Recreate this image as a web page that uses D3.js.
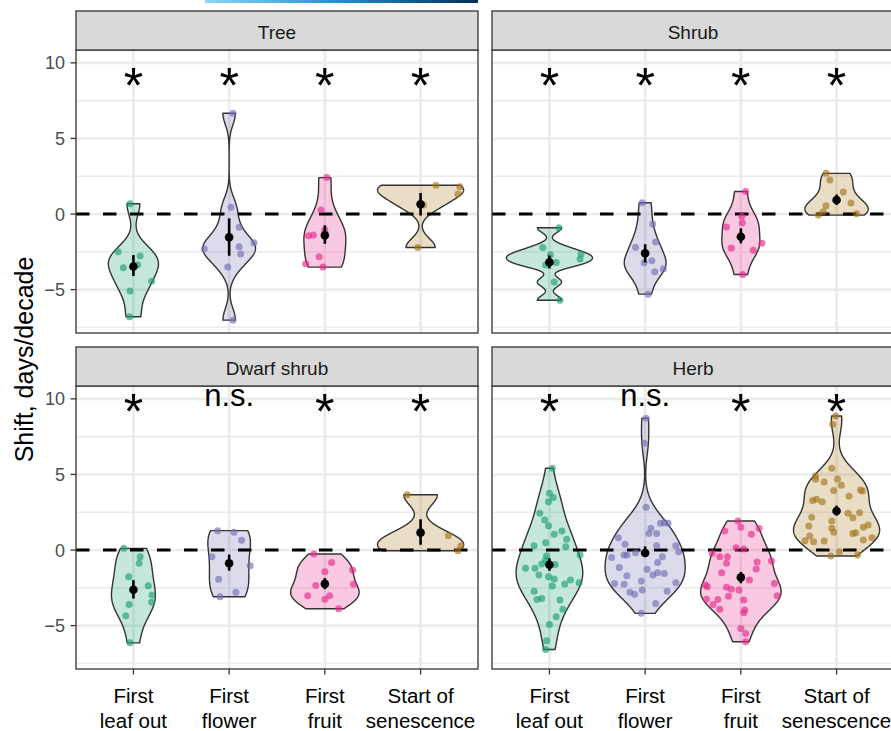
<!DOCTYPE html>
<html>
<head>
<meta charset="utf-8">
<script src="https://cdn.jsdelivr.net/npm/d3@7"></script>
<style>
  body { margin: 0; background: #fff; }
  svg { display: block; }
  text { font-family: "Liberation Sans", Arial, Helvetica, sans-serif; }
</style>
</head>
<body>
<svg id="chart" width="891" height="731"></svg>
<script>
// ---- data -------------------------------------------------------------
const facets = ["Tree", "Shrub", "Dwarf shrub", "Herb"];
const phases = ["First leaf out", "First flower", "First fruit", "Start of senescence"];
const phaseLines = [["First", "leaf out"], ["First", "flower"], ["First", "fruit"], ["Start of", "senescence"]];
const yTicks = [-5, 0, 5, 10];
const yMinorTicks = [-7.5, -2.5, 2.5, 7.5];
const phaseColors = ["#1B9E77", "#7570B3", "#E7298A", "#A6761D"];

// species-level shifts (days/decade) as [shift, horizontal jitter in category widths]
const treeLeafOut = [[0.68,-0.035],[-2.50,-0.16],[-2.78,0.07],[-3.36,0.045],[-3.56,-0.105],[-4.44,0.19],[-5.10,-0.035],[-6.80,-0.04]];
const treeFlower = [[6.67,0.04],[0.44,0.02],[-0.88,0.105],[-1.90,0.26],[-2.16,0.105],[-2.65,0.12],[-2.32,-0.26],[-3.51,-0.015],[-7.02,0.04]];
const treeFruit = [[2.41,0.02],[0.26,-0.04],[-1.06,0.0],[-1.39,-0.12],[-1.43,-0.17],[-2.83,-0.06],[-3.29,-0.2],[-3.51,-0.02]];
const treeSenescence = [[1.90,0.16],[1.81,0.41],[1.32,0.39],[0.60,0.03],[-2.21,-0.03]];

const shrubLeafOut = [[-0.91,0.10],[-2.21,-0.07],[-2.70,0.01],[-2.65,0.33],[-2.97,0.32],[-3.20,0.07],[-3.38,-0.04],[-4.50,0.05],[-5.70,0.11]];
const shrubFlower = [[0.75,-0.03],[-0.66,0.08],[-1.85,0.11],[-2.19,-0.10],[-3.09,0.07],[-3.22,-0.01],[-3.64,0.19],[-3.82,0.10],[-5.30,0.03]];
const shrubFruit = [[1.49,0.05],[-0.15,0.01],[-0.58,0.015],[-0.86,-0.15],[-1.94,0.22],[-2.25,-0.10],[-2.40,0.13],[-4.00,0.02]];
const shrubSenescence = [[2.69,-0.11],[2.25,-0.07],[1.46,0.07],[0.73,0.15],[0.55,-0.11],[0.15,-0.14],[-0.07,-0.19],[0.02,0.21]];

const dwarfLeafOut = [[0.11,-0.10],[-0.44,0.07],[-0.88,0.06],[-1.77,-0.05],[-2.36,0.155],[-2.98,0.195],[-3.46,0.19],[-3.60,-0.045],[-4.35,-0.08],[-6.14,-0.035]];
const dwarfFlower = [[1.28,-0.12],[1.17,0.05],[0.64,0.13],[-0.44,-0.18],[-1.04,0.22],[-1.94,-0.11],[-2.80,0.07],[-3.09,-0.095]];
const dwarfFruit = [[-0.26,-0.115],[-0.82,0.07],[-1.43,0.0],[-1.32,0.29],[-2.34,-0.095],[-2.27,0.30],[-3.02,-0.18],[-3.02,0.05],[-3.25,0.0],[-3.89,0.145]];
const dwarfSenescence = [[3.66,-0.14],[0.95,0.29],[0.29,0.42],[-0.05,0.39]];

const herbLeafOut = [[5.41,0.03],[3.75,0.0],[3.47,0.04],[3.20,-0.01],[2.43,-0.10],[1.99,-0.05],[1.61,-0.01],[1.04,0.05],[1.26,0.13],[0.71,0.18],[0.22,0.17],[0.48,-0.04],[0.28,-0.16],[-0.33,0.32],[-0.40,-0.03],[-0.66,-0.04],[-0.95,0.06],[-0.93,-0.08],[-1.21,-0.25],[-1.21,-0.15],[-1.66,-0.11],[-1.77,-0.01],[-1.92,0.05],[-2.25,0.16],[-1.99,0.22],[-2.16,0.31],[-2.38,0.03],[-2.72,-0.16],[-3.27,-0.13],[-3.20,-0.08],[-3.31,0.11],[-3.91,0.14],[-4.41,0.07],[-4.92,0.0],[-6.00,-0.03],[-6.58,-0.04]];
const herbFlower = [[8.72,0.01],[7.07,-0.01],[2.83,0.01],[1.81,0.20],[1.77,0.24],[1.77,0.16],[1.44,0.06],[1.10,0.04],[1.10,0.12],[0.82,-0.28],[0.38,-0.21],[0.29,0.12],[0.29,0.32],[-0.11,0.35],[-0.18,-0.10],[-0.33,-0.22],[-0.33,-0.19],[-0.49,-0.35],[-0.44,0.18],[-0.82,0.13],[-1.15,-0.27],[-1.28,0.02],[-1.66,0.08],[-1.50,0.13],[-1.55,0.20],[-1.70,-0.19],[-2.05,-0.04],[-2.21,-0.32],[-2.27,-0.22],[-2.16,0.32],[-2.65,-0.03],[-2.80,-0.16],[-2.93,-0.11],[-2.72,0.23],[-3.53,0.11],[-4.19,-0.04]];
const herbFruit = [[1.92,-0.03],[1.50,0.0],[1.44,0.19],[1.26,-0.17],[1.04,0.11],[0.15,-0.05],[0.07,0.03],[-0.22,-0.30],[-0.44,-0.22],[-0.44,-0.14],[-0.88,-0.15],[-0.73,0.32],[-0.79,0.17],[-1.26,0.16],[-1.50,-0.20],[-1.99,0.09],[-2.32,-0.37],[-2.43,-0.35],[-2.47,-0.15],[-2.60,-0.10],[-2.65,-0.02],[-2.21,0.35],[-3.02,0.38],[-3.05,-0.13],[-3.25,-0.36],[-3.27,-0.24],[-3.31,0.03],[-3.60,-0.29],[-3.91,-0.22],[-3.97,0.04],[-4.15,0.03],[-5.19,0.0],[-5.52,0.05],[-6.07,0.05]];
const herbSenescence = [[8.87,-0.01],[8.32,-0.04],[5.41,-0.05],[4.90,-0.22],[4.68,-0.22],[4.50,-0.13],[4.70,0.01],[4.28,0.05],[3.93,-0.03],[3.97,0.25],[3.91,0.27],[3.56,0.13],[3.27,-0.25],[3.36,-0.21],[3.20,-0.15],[2.43,0.12],[2.47,0.24],[2.14,0.17],[2.16,-0.26],[1.92,-0.05],[1.59,-0.29],[1.44,-0.05],[1.17,-0.03],[1.50,0.28],[1.66,0.33],[1.10,0.17],[1.15,0.20],[0.93,-0.28],[0.62,-0.33],[0.55,-0.24],[0.60,-0.13],[0.66,0.28],[0.82,0.37],[-0.11,0.03],[-0.40,-0.06],[-0.33,0.22]];

// mean shift with its interval, one row per growth form, [mean, low, high] per phase
const treeSummary = [[-3.47,-4.10,-2.72],[-1.54,-2.76,-0.29],[-1.41,-1.97,-0.75],[0.65,-0.10,1.39]];
const shrubSummary = [[-3.19,-3.60,-2.74],[-2.60,-3.21,-2.00],[-1.50,-1.94,-0.95],[0.93,0.60,1.29]];
const dwarfSummary = [[-2.63,-3.20,-1.99],[-0.88,-1.36,-0.30],[-2.24,-2.59,-1.86],[1.15,0.35,2.03]];
const herbSummary = [[-0.97,-1.37,-0.55],[-0.20,-0.44,0.24],[-1.81,-2.20,-1.45],[2.58,2.28,2.93]];

// significance labels and the height they are printed at
const treeSignif = ["*", "*", "*", "*"];
const shrubSignif = ["*", "*", "*", "*"];
const dwarfSignif = ["*", "n.s.", "*", "*"];
const herbSignif = ["*", "n.s.", "*", "*"];
const signifY = [9.25, 9.25, 9.95, 9.95];

const observations = [
  [treeLeafOut, treeFlower, treeFruit, treeSenescence],
  [shrubLeafOut, shrubFlower, shrubFruit, shrubSenescence],
  [dwarfLeafOut, dwarfFlower, dwarfFruit, dwarfSenescence],
  [herbLeafOut, herbFlower, herbFruit, herbSenescence]
];
const summaries = [treeSummary, shrubSummary, dwarfSummary, herbSummary];
const signifs = [treeSignif, shrubSignif, dwarfSignif, herbSignif];

// ---- layout -----------------------------------------------------------
const svg = d3.select("#chart");
const panelW = 402, panelH = 283, stripH = 39, gapX = 14;
const col0 = 76, row0 = 11, rowGap = 336;
const panels = facets.map((f, i) => {
  const c = i % 2, r = Math.floor(i / 2);
  const x0 = col0 + c * (panelW + gapX);
  const sy = row0 + r * rowGap;
  return { name: f, i, c, r, x0, x1: x0 + panelW, stripY: sy, y0: sy + stripH, y1: sy + stripH + panelH };
});

// shared y range: all shifts plus the label height, with a 5% margin on both sides
const allVals = observations.flat(2).map(d => d[0]);
const ext = d3.extent(allVals.concat([10]));
const pad = (ext[1] - ext[0]) * 0.05;
const yDomain = [ext[0] - pad, ext[1] + pad];

// thin banner at the top edge
const defs = svg.append("defs");
const grad = defs.append("linearGradient").attr("id", "banner").attr("x1", "0").attr("x2", "1");
grad.append("stop").attr("offset", "0").attr("stop-color", "#8fd5f6");
grad.append("stop").attr("offset", "0.5").attr("stop-color", "#1d8fcc");
grad.append("stop").attr("offset", "1").attr("stop-color", "#062f58");
svg.append("rect").attr("x", 205).attr("y", 0).attr("width", 273).attr("height", 3).attr("fill", "url(#banner)");

// Gaussian kernel density (bw.nrd0), evaluated on 512 points over the data range
function bwNrd0(v) {
  const n = v.length;
  const s = d3.deviation(v) || 0;
  const sorted = v.slice().sort(d3.ascending);
  const iqr = d3.quantileSorted(sorted, 0.75) - d3.quantileSorted(sorted, 0.25);
  let lo = Math.min(s, iqr / 1.34);
  if (!(lo > 0)) lo = s || Math.abs(sorted[0]) || 1;
  return 0.9 * lo * Math.pow(n, -0.2);
}
function density(v) {
  const h = bwNrd0(v);
  const [lo, hi] = d3.extent(v);
  const m = 512;
  const out = [];
  for (let k = 0; k < m; k++) {
    const y = lo + (hi - lo) * k / (m - 1);
    let s = 0;
    for (const xi of v) { const u = (y - xi) / h; s += Math.exp(-0.5 * u * u); }
    out.push({ y, d: s / (v.length * h * Math.sqrt(2 * Math.PI)) });
  }
  return out;
}

panels.forEach(p => {
  const g = svg.append("g");
  const x = d3.scalePoint().domain(phases).range([p.x0, p.x1]).padding(0.6);
  const y = d3.scaleLinear().domain(yDomain).range([p.y1, p.y0]);
  const step = x.step();

  const clipId = "clip" + p.i;
  defs.append("clipPath").attr("id", clipId).append("rect")
    .attr("x", p.x0).attr("y", p.y0).attr("width", panelW).attr("height", panelH);

  // background + grid
  g.append("rect").attr("x", p.x0).attr("y", p.y0).attr("width", panelW).attr("height", panelH).attr("fill", "#fff");
  const grid = g.append("g").attr("clip-path", `url(#${clipId})`);
  grid.selectAll(".minor").data(yMinorTicks).join("line")
    .attr("x1", p.x0).attr("x2", p.x1).attr("y1", d => y(d)).attr("y2", d => y(d))
    .attr("stroke", "#EBEBEB").attr("stroke-width", 1.6);
  grid.selectAll(".major").data(yTicks).join("line")
    .attr("x1", p.x0).attr("x2", p.x1).attr("y1", d => y(d)).attr("y2", d => y(d))
    .attr("stroke", "#EBEBEB").attr("stroke-width", 2.6);
  grid.selectAll(".vmajor").data(phases).join("line")
    .attr("x1", d => x(d)).attr("x2", d => x(d)).attr("y1", p.y0).attr("y2", p.y1)
    .attr("stroke", "#EBEBEB").attr("stroke-width", 2.6);

  const plot = g.append("g").attr("clip-path", `url(#${clipId})`);

  // violins, widths scaled to the largest density in the panel
  const groups = observations[p.i].map(arr => arr.map(d => d[0]));
  const dens = groups.map(density);
  const maxD = d3.max(dens, ds => d3.max(ds, e => e.d));
  dens.forEach((ds, j) => {
    const cx = x(phases[j]);
    const half = e => e.d / maxD * 0.45 * step;
    const area = d3.area().y(e => y(e.y)).x0(e => cx - half(e)).x1(e => cx + half(e));
    plot.append("path").attr("d", area(ds))
      .attr("fill", phaseColors[j]).attr("fill-opacity", 0.25)
      .attr("stroke", "#333333").attr("stroke-width", 1.4).attr("stroke-linejoin", "round");
  });

  // zero reference
  plot.append("line").attr("x1", p.x0).attr("x2", p.x1).attr("y1", y(0)).attr("y2", y(0))
    .attr("stroke", "#000").attr("stroke-width", 3.2).attr("stroke-dasharray", "13.5 13.5");

  // species points
  observations[p.i].forEach((arr, j) => {
    plot.selectAll(null).data(arr).join("circle")
      .attr("cx", d => x(phases[j]) + d[1] * step)
      .attr("cy", d => y(d[0]))
      .attr("r", 3.5)
      .attr("fill", phaseColors[j]).attr("fill-opacity", 0.65);
  });

  // mean and interval
  summaries[p.i].forEach((s, j) => {
    const cx = x(phases[j]);
    plot.append("line").attr("x1", cx).attr("x2", cx).attr("y1", y(s[1])).attr("y2", y(s[2]))
      .attr("stroke", "#000").attr("stroke-width", 2.6);
    plot.append("circle").attr("cx", cx).attr("cy", y(s[0])).attr("r", 4.3).attr("fill", "#000");
  });

  // significance labels
  signifs[p.i].forEach((lab, j) => {
    const cy = y(signifY[p.i]);
    const t = plot.append("text").attr("x", x(phases[j])).attr("text-anchor", "middle").attr("fill", "#000").text(lab);
    if (lab === "*") t.attr("font-size", 50).attr("y", cy + 0.58 * 50);
    else t.attr("font-size", 31).attr("y", cy - 2 + 0.26 * 31);
  });

  // panel border
  g.append("rect").attr("x", p.x0).attr("y", p.y0).attr("width", panelW).attr("height", panelH)
    .attr("fill", "none").attr("stroke", "#333333").attr("stroke-width", 1.3);

  // strip
  g.append("rect").attr("x", p.x0).attr("y", p.stripY).attr("width", panelW).attr("height", stripH)
    .attr("fill", "#D9D9D9").attr("stroke", "#333333").attr("stroke-width", 1.3);
  g.append("text").attr("x", (p.x0 + p.x1) / 2).attr("y", p.stripY + 27.5)
    .attr("text-anchor", "middle").attr("font-size", 19).attr("fill", "#1A1A1A").text(p.name);

  // y axis on the left column
  if (p.c === 0) {
    const ax = g.append("g");
    ax.selectAll("line").data(yTicks).join("line")
      .attr("x1", p.x0 - 5.5).attr("x2", p.x0).attr("y1", d => y(d)).attr("y2", d => y(d))
      .attr("stroke", "#333333").attr("stroke-width", 1.3);
    ax.selectAll("text").data(yTicks).join("text")
      .attr("x", p.x0 - 11).attr("y", d => y(d)).attr("dy", "0.36em")
      .attr("text-anchor", "end").attr("font-size", 18).attr("fill", "#4D4D4D")
      .text(d => d < 0 ? "\u2212" + Math.abs(d) : d);
  }

  // x axis on the bottom row
  if (p.r === 1) {
    const ax = g.append("g");
    ax.selectAll("line").data(phases).join("line")
      .attr("x1", d => x(d)).attr("x2", d => x(d)).attr("y1", p.y1).attr("y2", p.y1 + 5.5)
      .attr("stroke", "#333333").attr("stroke-width", 1.3);
    phases.forEach((ph, j) => {
      const t = ax.append("text").attr("x", x(ph)).attr("text-anchor", "middle")
        .attr("font-size", 20.5).attr("fill", "#000");
      phaseLines[j].forEach((ln, k) => {
        t.append("tspan").attr("x", x(ph)).attr("y", p.y1 + 34 + k * 25).text(ln);
      });
    });
  }
});

// y axis title
svg.append("text")
  .attr("transform", `translate(33, ${(panels[0].y0 + panels[2].y1) / 2}) rotate(-90)`)
  .attr("text-anchor", "middle").attr("font-size", 25).attr("fill", "#000")
  .text("Shift, days/decade");
</script>
</body>
</html>
